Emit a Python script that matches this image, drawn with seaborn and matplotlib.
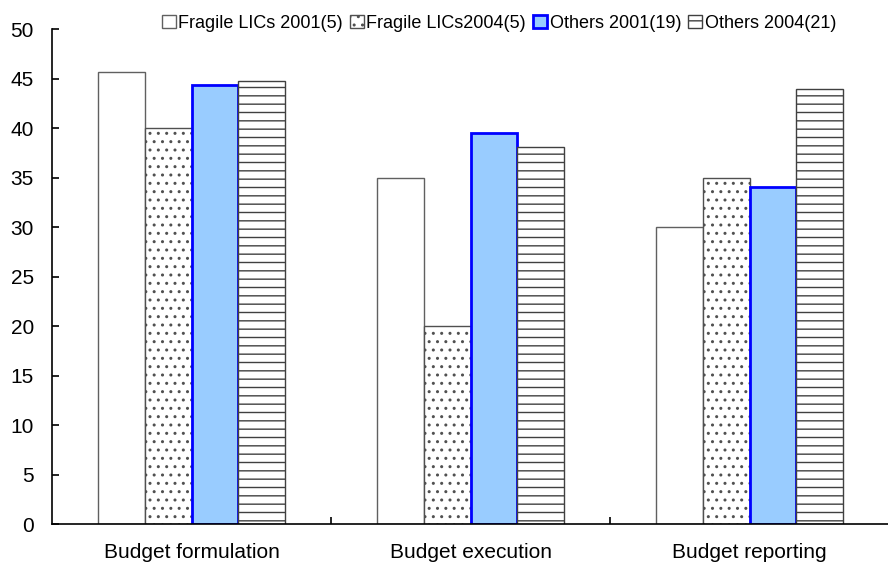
import numpy as np
import pandas as pd
import seaborn as sns
import matplotlib.pyplot as plt

# ---------------------------------------------------------
# Data
# ---------------------------------------------------------
categories = ["Budget formulation", "Budget execution", "Budget reporting"]
series = ["Fragile LICs 2001(5)", "Fragile LICs2004(5)", "Others 2001(19)", "Others 2004(21)"]

fragile_2001 = [45.7, 35.0, 30.0]
fragile_2004 = [40.0, 20.0, 35.0]
others_2001 = [44.4, 39.5, 34.1]
others_2004 = [44.8, 38.1, 44.0]

values = [fragile_2001, fragile_2004, others_2001, others_2004]

rows = []
for name, vals in zip(series, values):
    for cat, v in zip(categories, vals):
        rows.append({"Category": cat, "Series": name, "Value": v})
df = pd.DataFrame(rows)

# ---------------------------------------------------------
# Styling
# ---------------------------------------------------------
sns.set_style("ticks")
plt.rcParams["font.family"] = ["Liberation Sans", "DejaVu Sans"]
plt.rcParams["hatch.linewidth"] = 1.0
plt.rcParams["text.color"] = "black"
plt.rcParams["xtick.color"] = "black"
plt.rcParams["ytick.color"] = "black"
plt.rcParams["xtick.labelcolor"] = "black"
plt.rcParams["ytick.labelcolor"] = "black"

faces = ["white", "white", "#99CCFF", "white"]
edges = ["#606060", "#505050", "#0000FF", "#404040"]
widths = [1.0, 1.0, 2.0, 1.0]
hatches = ["", "..", "", "--"]

fig = plt.figure(figsize=(8.88, 5.67), dpi=100)
ax = fig.add_axes([0.0586, 0.0758, 0.9426, 0.8723])

sns.barplot(
    data=df, x="Category", y="Value", hue="Series",
    order=categories, hue_order=series,
    palette=dict(zip(series, faces)),
    width=0.67, saturation=1, ax=ax, legend=False,
)

for cont, ec, lw, h in zip(ax.containers, edges, widths, hatches):
    for bar in cont.patches:
        bar.set_edgecolor(ec)
        bar.set_linewidth(lw)
        bar.set_hatch(h)

ax.set_ylim(0, 50)
ax.set_yticks(np.arange(0, 51, 5))
ax.set_xlim(-0.5, 2.5)
ax.set_xlabel("")
ax.set_ylabel("")

sns.despine(ax=ax)
for sp in ["left", "bottom"]:
    ax.spines[sp].set_color("black")
    ax.spines[sp].set_linewidth(1.2)

ax.tick_params(axis="y", direction="in", length=5, width=1.2, pad=13,
               labelsize=15, colors="black")
ax.tick_params(axis="x", which="major", length=0, pad=14, labelsize=15,
               colors="black")
ax.set_xticks([0.5, 1.5], minor=True)
ax.tick_params(axis="x", which="minor", direction="in", length=5, width=1.2,
               colors="black")

fig.legend(
    handles=list(ax.containers), labels=series,
    loc="center", bbox_to_anchor=(499 / 888, 1 - 23 / 567),
    ncol=4, frameon=False, fontsize=13, labelcolor="black",
    handlelength=0.75, handleheight=0.75, handletextpad=0.15,
    columnspacing=0.4, borderaxespad=0,
)

fig.savefig("out.png", dpi=100)
plt.close(fig)
